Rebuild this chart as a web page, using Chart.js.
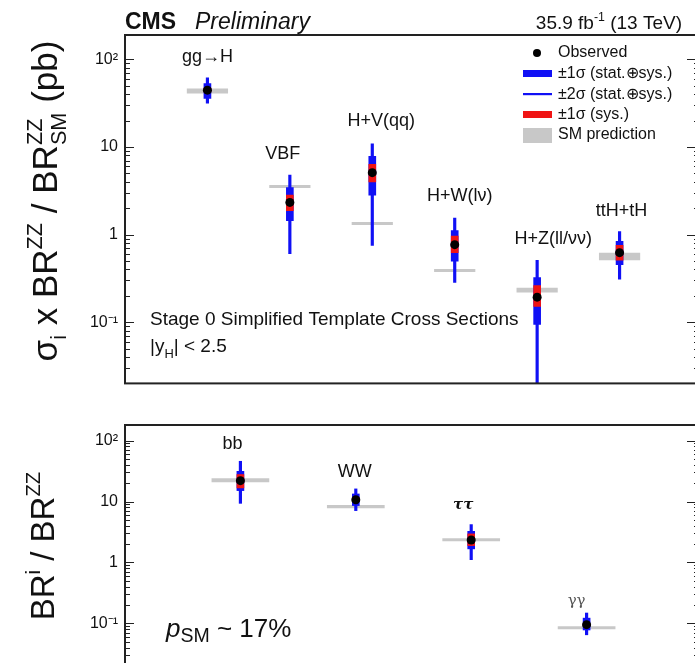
<!DOCTYPE html>
<html><head><meta charset="utf-8">
<script src="https://cdn.jsdelivr.net/npm/chart.js@4"></script>
<style>
html,body{margin:0;padding:0;background:#fff;overflow:hidden;width:695px;height:663px;position:relative;}
#c1{position:absolute;left:0;top:0;}
#c2{position:absolute;left:0;top:400px;}
</style></head><body>
<canvas id="c1" width="720" height="400"></canvas>
<canvas id="c2" width="720" height="300"></canvas>
<script>
// ---------- data ----------
const topCategories = ['gg→H', 'VBF', 'H+V(qq)', 'H+W(lν)', 'H+Z(ll/νν)', 'ttH+tH'];
const topPositions  = [1, 2, 3, 4, 5, 6];
const topObserved   = [44.6, 2.33, 5.09, 0.767, 0.193, 0.622];
const topSig1Lo     = [35.9, 1.44, 2.82, 0.497, 0.094, 0.455];
const topSig1Hi     = [53.0, 3.44, 7.85, 1.11, 0.322, 0.835];
const topSig2Lo     = [31.6, 0.607, 0.753, 0.285, 0.01, 0.31];
const topSig2Hi     = [61.5, 4.79, 10.9, 1.54, 0.509, 1.08];
const topSysLo      = [42.5, 1.87, 3.99, 0.622, 0.151, 0.509];
const topSysHi      = [47.0, 2.82, 6.33, 0.96, 0.261, 0.753];
const topSmLo       = [40.9, 3.40, 1.29, 0.374, 0.218, 0.509];
const topSmHi       = [46.6, 3.68, 1.39, 0.405, 0.248, 0.622];

const botCategories = ['bb', 'WW', 'ττ', 'γγ'];
const botPositions  = [1, 2, 3, 4];
const botObserved   = [22.0, 10.7, 2.34, 0.0953];
const botSig1Lo     = [15.1, 8.58, 1.67, 0.078];
const botSig1Hi     = [31.3, 13.3, 3.24, 0.122];
const botSig2Lo     = [9.33, 7.09, 1.11, 0.065];
const botSig2Hi     = [45.7, 16.1, 4.18, 0.148];
const botSysLo      = [16.7, 10.0, 1.89, 0.092];
const botSysHi      = [27.7, 11.5, 2.94, 0.099];
const botSmLo       = [20.7, 7.75, 2.22, 0.080];
const botSmHi       = [24.0, 8.75, 2.50, 0.090];

const tickValues = [100, 10, 1, 0.1];
const tickLabels = ['10²', '10', '1', '10⁻¹'];
const topYRange = [0.02, 190];
const botYRange = [0.02, 180];
const topXRange = [0, 7];
const botXRange = [0, 5];

// ---------- layout / style ----------
const FONT = '"Liberation Sans", Arial, Helvetica, sans-serif';
const BLUE = '#1010f5', RED = '#f01414', GRAY = '#c8c8c8', FRAME = '#222';
const topLabelNudge = [[0,0],[-7,0],[9,-2],[5,-1],[16,0],[2,0]];
const botLabelNudge = [[-8,0],[-1,0],[-8,-2],[-10,5]];
const labelFonts = {'ττ':'bold italic 15px "DejaVu Serif", serif', 'γγ':'15px "DejaVu Serif", serif'};

Chart.defaults.font.family = FONT;
Chart.defaults.color = '#111';

function rich(ctx, x, y, parts, size, draw) {
  let cx = x;
  for (const p of parts) {
    const items = p.stack || [p];
    let w = 0;
    for (const q of items) {
      const s = (q.s || 1) * size;
      ctx.font = (q.st ? q.st + ' ' : '') + s + 'px ' + (q.f || FONT);
      if (draw) ctx.fillText(q.t, cx, y + (q.dy || 0) * size);
      w = Math.max(w, ctx.measureText(q.t).width);
    }
    cx += w;
  }
  return cx - x;
}

function makeDatasets(xs, obs, s2lo, s2hi, s1lo, s1hi, sylo, syhi, smlo, smhi) {
  const fl = (lo, hi) => xs.map((x, i) => ({x: x, y: [lo[i], hi[i]]}));
  return [
    {type:'bar', label:'SM prediction', data: fl(smlo, smhi), backgroundColor: GRAY,
     barPercentage: 0.5, categoryPercentage: 1, grouped: false, order: 5, borderWidth: 0},
    {type:'bar', label:'±2σ', data: fl(s2lo, s2hi), backgroundColor: BLUE,
     barThickness: 2.5, grouped: false, order: 4, borderWidth: 0},
    {type:'bar', label:'±1σ', data: fl(s1lo, s1hi), backgroundColor: BLUE,
     barThickness: 7, grouped: false, order: 3, borderWidth: 0},
    {type:'bar', label:'±1σ sys', data: fl(sylo, syhi), backgroundColor: RED,
     barThickness: 7, grouped: false, order: 2, borderWidth: 0},
    {type:'scatter', label:'Observed', data: xs.map((x, i) => ({x: x, y: obs[i]})),
     backgroundColor: '#000', borderWidth: 0, pointRadius: 4.5, order: 1}
  ];
}

const framePlugin = {
  id: 'frame',
  afterDatasetsDraw(chart) {
    const {ctx, chartArea: a} = chart;
    const y = chart.scales.y;
    ctx.save();
    ctx.strokeStyle = FRAME; ctx.lineWidth = 1.2;
    y.ticks.forEach(t => {
      const v = t.value;
      const e = Math.floor(Math.log10(v) + 1e-9);
      const m = v / Math.pow(10, e);
      if (Math.abs(m - Math.round(m)) > 1e-6) return;
      const major = Math.round(m) === 1 || Math.round(m) === 10;
      const py = Math.round(y.getPixelForValue(v)) + 0.5;
      const lenL = major ? 9 : 5, lenR = major ? 15 : 8;
      ctx.beginPath();
      ctx.moveTo(a.left, py); ctx.lineTo(a.left + lenL, py);
      ctx.moveTo(a.right, py); ctx.lineTo(a.right - lenR, py);
      ctx.stroke();
    });
    ctx.lineWidth = 2;
    ctx.strokeRect(a.left, a.top, a.right - a.left, a.bottom - a.top);
    ctx.restore();
  }
};

function catLabelPlugin(cats, xs, hi2, nudge, offset, size) {
  return {
    id: 'catlabels',
    afterDraw(chart) {
      const {ctx} = chart;
      const xS = chart.scales.x, yS = chart.scales.y;
      ctx.save();
      ctx.fillStyle = '#111'; ctx.textAlign = 'center'; ctx.textBaseline = 'middle';
      cats.forEach((c, i) => {
        ctx.font = labelFonts[c] || (size + 'px ' + FONT);
        ctx.fillStyle = c === 'γγ' ? '#555' : '#111';
        const px = xS.getPixelForValue(xs[i]) + nudge[i][0];
        const py = yS.getPixelForValue(hi2[i]) - offset + nudge[i][1];
        ctx.fillText(c, px, py);
      });
      ctx.restore();
    }
  };
}

function yTitle(ctx, parts, xBase, yCenter, size) {
  ctx.save();
  ctx.translate(xBase, yCenter);
  ctx.rotate(-Math.PI / 2);
  ctx.fillStyle = '#111'; ctx.textBaseline = 'alphabetic'; ctx.textAlign = 'left';
  const w = rich(ctx, 0, 0, parts, size, false);
  rich(ctx, -w / 2, 0, parts, size, true);
  ctx.restore();
}

const topTextPlugin = {
  id: 'toptext',
  afterDraw(chart) {
    const ctx = chart.ctx;
    ctx.save();
    ctx.fillStyle = '#111'; ctx.textBaseline = 'alphabetic'; ctx.textAlign = 'left';
    ctx.font = 'bold 23px ' + FONT; ctx.fillText('CMS', 125, 29);
    ctx.font = 'italic 23px ' + FONT; ctx.fillText('Preliminary', 195, 29);
    const lumi = [{t:'35.9 fb'}, {t:'-1', s:0.65, dy:-0.42}, {t:' (13 TeV)'}];
    const lw = rich(ctx, 0, 0, lumi, 19, false);
    rich(ctx, 682 - lw, 29, lumi, 19, true);
    // y title
    yTitle(ctx, [
      {t:'σ'}, {t:'i', s:0.62, dy:0.25}, {t:' x BR'}, {t:'ZZ', s:0.62, dy:-0.42},
      {t:' / BR'}, {stack:[{t:'ZZ', s:0.62, dy:-0.42}, {t:'SM', s:0.62, dy:0.26}]}, {t:' (pb)'}
    ], 57, 201, 35);
    // stage 0 text
    ctx.font = '19px ' + FONT; ctx.fillStyle = '#111';
    ctx.fillText('Stage 0 Simplified Template Cross Sections', 150, 325);
    rich(ctx, 150, 352, [{t:'|y'}, {t:'H', s:0.68, dy:0.32}, {t:'| < 2.5'}], 19, true);
    // legend
    const lx = 523, lw2 = 29, tx = 558;
    ctx.fillStyle = '#000';
    ctx.beginPath(); ctx.arc(537, 53, 4, 0, Math.PI * 2); ctx.fill();
    ctx.fillStyle = BLUE; ctx.fillRect(lx, 70, lw2, 7);
    ctx.fillRect(lx, 93, lw2, 2.2);
    ctx.fillStyle = RED; ctx.fillRect(lx, 111, lw2, 7);
    ctx.fillStyle = GRAY; ctx.fillRect(lx, 128, lw2, 15);
    ctx.fillStyle = '#111'; ctx.textBaseline = 'middle'; ctx.font = '16px ' + FONT;
    ctx.fillText('Observed', tx, 53);
    ctx.fillText('±1σ (stat.⊕sys.)', tx, 74);
    ctx.fillText('±2σ (stat.⊕sys.)', tx, 95);
    ctx.fillText('±1σ (sys.)', tx, 115);
    ctx.fillText('SM prediction', tx, 135);
    ctx.restore();
  }
};

const botTextPlugin = {
  id: 'bottext',
  afterDraw(chart) {
    const ctx = chart.ctx;
    ctx.save();
    ctx.fillStyle = '#111';
    yTitle(ctx, [{t:'BR'}, {t:'i', s:0.62, dy:-0.42}, {t:' / BR'}, {t:'ZZ', s:0.62, dy:-0.42}], 54, 146, 33);
    ctx.textBaseline = 'alphabetic'; ctx.textAlign = 'left';
    rich(ctx, 166, 237, [{t:'p', st:'italic'}, {t:'SM', s:0.75, dy:0.2}, {t:' ~ 17%'}], 26, true);
    ctx.restore();
  }
};

function yAxis(range) {
  return {
    type: 'logarithmic', min: range[0], max: range[1],
    grid: {display: false, drawTicks: false}, border: {display: false},
    ticks: {
      autoSkip: false, padding: 7, color: '#111', font: {size: 16},
      callback: (v) => {
        const k = tickValues.findIndex(t => Math.abs(v - t) / t < 1e-6);
        return k >= 0 ? tickLabels[k] : '';
      }
    },
    afterFit: (s) => { s.width = 125; }
  };
}

function xAxis(range) {
  return {type: 'linear', min: range[0], max: range[1], display: false, offset: false,
          grid: {offset: false}, ticks: {stepSize: 1}};
}

new Chart(document.getElementById('c1'), {
  type: 'bar',
  data: {datasets: makeDatasets(topPositions, topObserved, topSig2Lo, topSig2Hi, topSig1Lo, topSig1Hi,
                                topSysLo, topSysHi, topSmLo, topSmHi)},
  options: {
    responsive: false, animation: false,
    layout: {padding: {left: 0, top: 35, right: 18, bottom: 13}},
    plugins: {legend: {display: false}, tooltip: {enabled: false}},
    scales: {x: xAxis(topXRange), y: yAxis(topYRange)}
  },
  plugins: [framePlugin, catLabelPlugin(topCategories, topPositions, topSig2Hi, topLabelNudge, 21, 18), topTextPlugin]
});

new Chart(document.getElementById('c2'), {
  type: 'bar',
  data: {datasets: makeDatasets(botPositions, botObserved, botSig2Lo, botSig2Hi, botSig1Lo, botSig1Hi,
                                botSysLo, botSysHi, botSmLo, botSmHi)},
  options: {
    responsive: false, animation: false,
    layout: {padding: {left: 0, top: 25, right: 18, bottom: 34}},
    plugins: {legend: {display: false}, tooltip: {enabled: false}},
    scales: {x: xAxis(botXRange), y: yAxis(botYRange)}
  },
  plugins: [framePlugin, catLabelPlugin(botCategories, botPositions, botSig2Hi, botLabelNudge, 17, 18), botTextPlugin]
});
</script>
</body></html>
